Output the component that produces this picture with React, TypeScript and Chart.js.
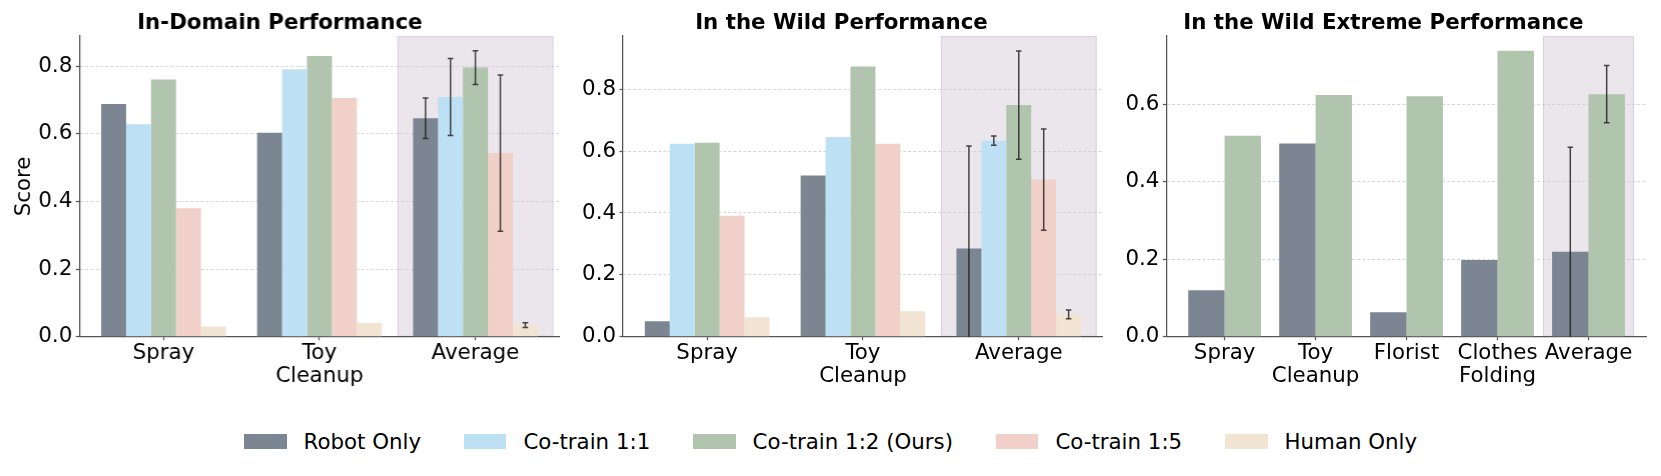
import React, { useEffect, useRef } from "react";
import { Chart, registerables } from "chart.js";

Chart.register(...registerables);

// ---------- data ----------
const seriesNames = ["Robot Only", "Co-train 1:1", "Co-train 1:2 (Ours)", "Co-train 1:5", "Human Only"];
const seriesColors = ["#7b8692", "#bde0f4", "#b0c4ae", "#f0d0c8", "#f1e4d3"];

const inDomainCats = ["Spray", ["Toy", "Cleanup"], "Average"];
const inDomainRobot = [0.688, 0.603, 0.646];
const inDomainCo11 = [0.628, 0.791, 0.709];
const inDomainCo12 = [0.761, 0.83, 0.796];
const inDomainCo15 = [0.38, 0.706, 0.543];
const inDomainHuman = [0.03, 0.041, 0.034];
const inDomainRobotErr = [null, null, 0.06];
const inDomainCo11Err = [null, null, 0.114];
const inDomainCo12Err = [null, null, 0.05];
const inDomainCo15Err = [null, null, 0.231];
const inDomainHumanErr = [null, null, 0.007];
const inDomainYTicks = [0, 0.2, 0.4, 0.6, 0.8];

const wildCats = ["Spray", ["Toy", "Cleanup"], "Average"];
const wildRobot = [0.05, 0.521, 0.285];
const wildCo11 = [0.624, 0.646, 0.634];
const wildCo12 = [0.627, 0.874, 0.749];
const wildCo15 = [0.391, 0.624, 0.508];
const wildHuman = [0.063, 0.082, 0.072];
const wildRobotErr = [null, null, 0.332];
const wildCo11Err = [null, null, 0.015];
const wildCo12Err = [null, null, 0.175];
const wildCo15Err = [null, null, 0.164];
const wildHumanErr = [null, null, 0.014];
const wildYTicks = [0, 0.2, 0.4, 0.6, 0.8];

const extremeCats = ["Spray", ["Toy", "Cleanup"], "Florist", ["Clothes", "Folding"], "Average"];
const extremeRobot = [0.12, 0.499, 0.063, 0.198, 0.219];
const extremeCo12 = [0.519, 0.624, 0.621, 0.738, 0.626];
const extremeRobotErr = [null, null, null, null, 0.27];
const extremeCo12Err = [null, null, null, null, 0.074];
const extremeYTicks = [0, 0.2, 0.4, 0.6];

const FONT = "'DejaVu Sans', sans-serif";
const TICK_SIZE = 21.33;
const AXIS_COLOR = "#555555";

type Series = { name: string; color: string; values: number[]; err: (number | null)[] };
type Panel = {
  title: string;
  cats: (string | string[])[];
  series: Series[];
  xMin: number;
  xMax: number;
  yMax: number;
  yTicks: number[];
  shade: [number, number];
  yTitle?: string;
  left: number;
  width: number;
  yAxisWidth: number;
  padRight: number;
};

const panels: Panel[] = [
  {
    title: "In-Domain Performance",
    cats: inDomainCats,
    series: [
      { name: seriesNames[0], color: seriesColors[0], values: inDomainRobot, err: inDomainRobotErr },
      { name: seriesNames[1], color: seriesColors[1], values: inDomainCo11, err: inDomainCo11Err },
      { name: seriesNames[2], color: seriesColors[2], values: inDomainCo12, err: inDomainCo12Err },
      { name: seriesNames[3], color: seriesColors[3], values: inDomainCo15, err: inDomainCo15Err },
      { name: seriesNames[4], color: seriesColors[4], values: inDomainHuman, err: inDomainHumanErr },
    ],
    xMin: -0.54,
    xMax: 2.54,
    yMax: 0.889,
    yTicks: inDomainYTicks,
    shade: [1.5, 2.5],
    yTitle: "Score",
    left: 0,
    width: 638.6,
    yAxisWidth: 79.2,
    padRight: 79.3,
  },
  {
    title: "In the Wild Performance",
    cats: wildCats,
    series: [
      { name: seriesNames[0], color: seriesColors[0], values: wildRobot, err: wildRobotErr },
      { name: seriesNames[1], color: seriesColors[1], values: wildCo11, err: wildCo11Err },
      { name: seriesNames[2], color: seriesColors[2], values: wildCo12, err: wildCo12Err },
      { name: seriesNames[3], color: seriesColors[3], values: wildCo15, err: wildCo15Err },
      { name: seriesNames[4], color: seriesColors[4], values: wildHuman, err: wildHumanErr },
    ],
    xMin: -0.54,
    xMax: 2.54,
    yMax: 0.972,
    yTicks: wildYTicks,
    shade: [1.5, 2.5],
    left: 580,
    width: 566,
    yAxisWidth: 43,
    padRight: 43.1,
  },
  {
    title: "In the Wild Extreme Performance",
    cats: extremeCats,
    series: [
      { name: seriesNames[0], color: seriesColors[0], values: extremeRobot, err: extremeRobotErr },
      { name: seriesNames[2], color: seriesColors[2], values: extremeCo12, err: extremeCo12Err },
    ],
    xMin: -0.64,
    xMax: 4.64,
    yMax: 0.776,
    yTicks: extremeYTicks,
    shade: [3.5, 4.5],
    left: 1120,
    width: 573,
    yAxisWidth: 46.4,
    padRight: 46.3,
  },
];

const CANVAS_H = 400;
const X_AXIS_H = CANVAS_H - 336.7;

// ---------- plugins ----------
const shadePlugin = {
  id: "shadeRegion",
  beforeDraw(chart: any, _args: any, opts: any) {
    const { ctx, chartArea, scales } = chart;
    if (!opts || !opts.range) return;
    const x1 = scales.x.getPixelForValue(opts.range[0]);
    const x2 = scales.x.getPixelForValue(opts.range[1]);
    ctx.save();
    ctx.fillStyle = "#ebe5ec";
    ctx.fillRect(x1, chartArea.top, x2 - x1, chartArea.bottom - chartArea.top);
    ctx.strokeStyle = "rgba(205,195,210,0.6)";
    ctx.lineWidth = 1;
    ctx.strokeRect(x1 + 0.5, chartArea.top + 0.5, x2 - x1 - 1, chartArea.bottom - chartArea.top - 1);
    ctx.restore();
  },
};

const errorBarPlugin = {
  id: "errorBars",
  afterDatasetsDraw(chart: any) {
    const { ctx, chartArea, scales } = chart;
    ctx.save();
    ctx.beginPath();
    ctx.rect(chartArea.left, chartArea.top, chartArea.right - chartArea.left, chartArea.bottom - chartArea.top);
    ctx.clip();
    ctx.strokeStyle = "rgba(25,25,25,0.8)";
    ctx.lineWidth = 1.5;
    chart.data.datasets.forEach((ds: any, d: number) => {
      const meta = chart.getDatasetMeta(d);
      (ds.errors || []).forEach((e: number | null, i: number) => {
        if (e == null) return;
        const bar = meta.data[i];
        if (!bar) return;
        const v = ds.data[i].y;
        const yTop = scales.y.getPixelForValue(v + e);
        const yBot = scales.y.getPixelForValue(v - e);
        const x = bar.x;
        const cap = 2.8;
        ctx.beginPath();
        ctx.moveTo(x, yTop);
        ctx.lineTo(x, yBot);
        ctx.moveTo(x - cap, yTop);
        ctx.lineTo(x + cap, yTop);
        ctx.moveTo(x - cap, yBot);
        ctx.lineTo(x + cap, yBot);
        ctx.stroke();
      });
    });
    ctx.restore();
  },
};

function buildChart(canvas: HTMLCanvasElement, p: Panel) {
  return new Chart(canvas, {
    type: "bar",
    data: {
      datasets: p.series.map((s) => ({
        label: s.name,
        data: s.values.map((v, i) => ({ x: i, y: v })),
        backgroundColor: s.color,
        borderWidth: 0,
        categoryPercentage: 0.8,
        barPercentage: 1.0,
        errors: s.err,
      })) as any,
    },
    options: {
      animation: false,
      responsive: false,
      maintainAspectRatio: false,
      events: [],
      layout: { padding: { left: 0, right: p.padRight, top: 0, bottom: 0 } },
      plugins: {
        legend: { display: false },
        tooltip: { enabled: false },
        title: {
          display: true,
          text: p.title,
          color: "#000",
          font: { family: FONT, size: TICK_SIZE, weight: "bold", lineHeight: 1.2 },
          padding: { top: 10.5, bottom: 0 },
        },
        shadeRegion: { range: p.shade },
      } as any,
      scales: {
        x: {
          type: "linear",
          min: p.xMin,
          max: p.xMax,
          offset: false,
          z: 1,
          afterBuildTicks: (scale: any) => {
            scale.ticks = p.cats.map((_, i) => ({ value: i }));
          },
          afterFit: (scale: any) => {
            scale.height = X_AXIS_H;
          },
          ticks: {
            autoSkip: false,
            maxRotation: 0,
            minRotation: 0,
            padding: 1.8,
            color: "#000",
            font: { family: FONT, size: TICK_SIZE, lineHeight: 1.08 },
            callback: (_v: any, i: number) => p.cats[i] as any,
          },
          grid: {
            offset: false,
            drawOnChartArea: false,
            drawTicks: true,
            tickLength: 3.5,
            tickColor: AXIS_COLOR,
            tickWidth: 1.25,
          },
          border: { color: AXIS_COLOR, width: 1.25 },
        },
        y: {
          type: "linear",
          min: 0,
          max: p.yMax,
          afterBuildTicks: (scale: any) => {
            scale.ticks = p.yTicks.map((v) => ({ value: v }));
          },
          afterFit: (scale: any) => {
            scale.width = p.yAxisWidth;
          },
          ticks: {
            padding: 3.5,
            color: "#000",
            font: { family: FONT, size: TICK_SIZE },
            callback: (v: any) => Number(v).toFixed(1),
          },
          grid: {
            color: "#cccccc",
            lineWidth: 0.8,
            drawTicks: true,
            tickLength: 3.5,
            tickColor: AXIS_COLOR,
            tickWidth: 1.25,
            tickBorderDash: [],
          },
          border: { color: AXIS_COLOR, width: 1.25, dash: [3, 2] },
          title: {
            display: !!p.yTitle,
            text: p.yTitle || "",
            color: "#000",
            font: { family: FONT, size: TICK_SIZE, lineHeight: 1.2 },
            padding: { top: 11.4, bottom: 0 },
          },
        },
      },
    } as any,
    plugins: [shadePlugin, errorBarPlugin],
  });
}

function PanelChart({ p }: { p: Panel }) {
  const ref = useRef<HTMLCanvasElement | null>(null);
  useEffect(() => {
    if (!ref.current) return;
    const chart = buildChart(ref.current, p);
    return () => chart.destroy();
  }, [p]);
  return (
    <canvas
      ref={ref}
      width={p.width}
      height={CANVAS_H}
      style={{ position: "absolute", left: p.left, top: 0, width: p.width, height: CANVAS_H }}
    />
  );
}

export default function App() {
  return (
    <div
      style={{
        position: "absolute",
        left: 0,
        top: 0,
        width: 1661,
        height: 476,
        background: "#fff",
        overflow: "hidden",
        fontFamily: FONT,
      }}
    >
      {panels.map((p, i) => (
        <PanelChart key={i} p={p} />
      ))}
      <div
        style={{
          position: "absolute",
          left: 0,
          top: 426.5,
          width: 1661,
          height: 30,
          display: "flex",
          justifyContent: "center",
          alignItems: "center",
          fontSize: TICK_SIZE,
          color: "#000",
          whiteSpace: "nowrap",
        }}
      >
        {seriesNames.map((n, i) => (
          <div
            key={n}
            style={{ display: "flex", alignItems: "center", marginLeft: i === 0 ? 0 : 42.7 }}
          >
            <span
              style={{
                display: "inline-block",
                width: 42.7,
                height: 14.9,
                background: seriesColors[i],
                marginRight: 17,
              }}
            />
            <span style={{ lineHeight: "30px" }}>{n}</span>
          </div>
        ))}
      </div>
    </div>
  );
}
